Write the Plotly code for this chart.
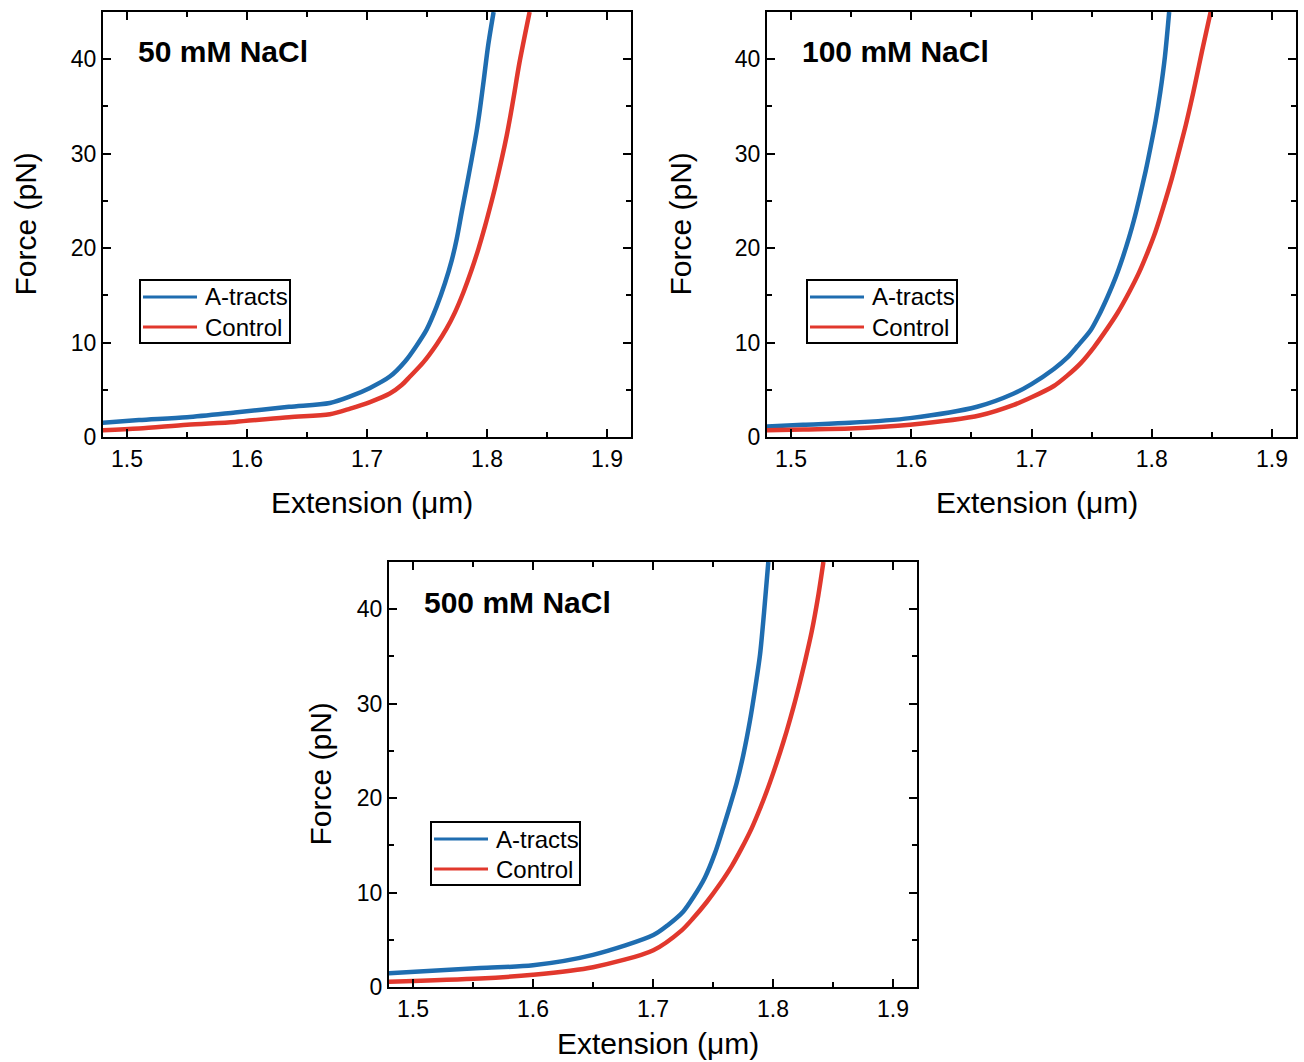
import plotly.graph_objects as go

# ---------------- data ----------------
titles = ["50 mM NaCl", "100 mM NaCl", "500 mM NaCl"]
series_names = ["A-tracts", "Control"]

# 50 mM NaCl
ext_a_50 = [1.478, 1.51, 1.55, 1.59, 1.635, 1.669, 1.686, 1.7025, 1.719, 1.7317, 1.7414, 1.7498,
            1.758, 1.765, 1.7706, 1.7748, 1.7789, 1.7831, 1.7872, 1.7914, 1.7942, 1.7975,
            1.801, 1.8055]
force_a_50 = [1.5, 1.8, 2.1, 2.6, 3.2, 3.6, 4.3, 5.2, 6.4, 8.0, 9.7, 11.4,
              13.8, 16.3, 18.7, 21.0, 23.8, 26.6, 29.4, 32.4, 34.8, 38.0,
              41.5, 45.0]
ext_c_50 = [1.478, 1.51, 1.55, 1.59, 1.635, 1.669, 1.686, 1.7025, 1.719, 1.7289, 1.7358, 1.7469,
            1.758, 1.7664, 1.7733, 1.7803, 1.7872, 1.7928, 1.7983, 1.8025, 1.8067, 1.8122,
            1.8164, 1.8195, 1.8225, 1.827, 1.8355]
force_c_50 = [0.7, 0.9, 1.3, 1.6, 2.1, 2.4, 3.0, 3.7, 4.6, 5.5, 6.4, 7.9,
              9.8, 11.5, 13.2, 15.3, 17.7, 19.9, 22.3, 24.3, 26.4, 29.4,
              31.9, 34.0, 36.2, 39.6, 45.0]

# 100 mM NaCl
ext_a_100 = [1.476, 1.51, 1.549, 1.599, 1.6548, 1.6853, 1.70, 1.7186, 1.7297, 1.7381, 1.7492,
             1.7561, 1.7631, 1.77, 1.7756, 1.7811, 1.7853, 1.7894, 1.795, 1.7992, 1.8033,
             1.8072, 1.811, 1.8145]
force_a_100 = [1.1, 1.3, 1.5, 2.0, 3.2, 4.6, 5.6, 7.2, 8.4, 9.6, 11.3,
               12.9, 14.8, 16.9, 18.9, 21.1, 23.0, 25.1, 28.2, 30.8, 33.5,
               36.6, 40.3, 45.0]
ext_c_100 = [1.476, 1.51, 1.549, 1.599, 1.6575, 1.6853, 1.70, 1.7186, 1.7297, 1.7408, 1.7519,
             1.7631, 1.7714, 1.7811, 1.7894, 1.7964, 1.8019, 1.8061, 1.8117, 1.8172, 1.8228,
             1.8283, 1.8325, 1.8363, 1.8419, 1.849]
force_c_100 = [0.7, 0.8, 0.9, 1.3, 2.3, 3.4, 4.2, 5.4, 6.5, 7.8, 9.5,
               11.5, 13.1, 15.3, 17.4, 19.5, 21.3, 22.9, 25.2, 27.6, 30.3,
               33.0, 35.3, 37.5, 40.9, 45.0]

# 500 mM NaCl
ext_a_500 = [1.478, 1.5558, 1.60, 1.65, 1.7003, 1.7128, 1.7253, 1.7336, 1.7433, 1.7517, 1.7586,
             1.7642, 1.7697, 1.7753, 1.7808, 1.785, 1.7892, 1.7925, 1.7961]
force_a_500 = [1.45, 2.0, 2.3, 3.4, 5.5, 6.6, 8.0, 9.5, 11.6, 14.2, 16.9,
               19.2, 21.6, 24.6, 28.2, 31.5, 35.2, 39.6, 45.0]
ext_c_500 = [1.478, 1.5558, 1.60, 1.65, 1.7003, 1.7239, 1.7336, 1.7448, 1.7558, 1.7656,
             1.7739, 1.7822, 1.7892, 1.7947, 1.8003, 1.8058, 1.8114, 1.817, 1.8225, 1.8267,
             1.8322, 1.8378, 1.842]
force_c_500 = [0.56, 0.9, 1.3, 2.1, 3.9, 6.0, 7.3, 9.0, 10.9, 12.8,
               14.7, 16.8, 18.9, 20.7, 22.7, 24.8, 27.1, 29.6, 32.3, 34.5,
               37.6, 41.5, 45.0]

x_range = [1.48, 1.92]
y_range = [0, 45]
x_ticks = [1.5, 1.6, 1.7, 1.8, 1.9]
y_ticks = [0, 10, 20, 30, 40]

# ---------------- figure ----------------
W, H = 1304, 1062
BLUE = "#1f6db0"
RED = "#e1382d"
COLORS = [BLUE, RED]
FONT = "Liberation Sans, Arial, sans-serif"

# plot areas in pixels: (left, right, top, bottom)
boxes = [(103, 631, 12, 437), (767, 1296, 12, 437), (389, 917, 562, 987)]
# legend boxes in pixels: (left, top, right, bottom)
legend_boxes = [(140, 280, 290, 343), (807, 280, 957, 343), (431, 822, 580, 885)]
xtitle_off = [65, 65, 56]
ytitle_off = [78, 87, 69]

data = [
    (ext_a_50, force_a_50, ext_c_50, force_c_50),
    (ext_a_100, force_a_100, ext_c_100, force_c_100),
    (ext_a_500, force_a_500, ext_c_500, force_c_500),
]


def px(xp):
    return xp / W


def py(yp):
    return 1 - yp / H


fig = go.Figure()
layout = dict(
    width=W, height=H, autosize=False,
    margin=dict(l=0, r=0, t=0, b=0, pad=0, autoexpand=False),
    paper_bgcolor="white", plot_bgcolor="white",
    font=dict(family=FONT, color="black"),
    showlegend=False,
    annotations=[], shapes=[],
)

for i, ((xa, ya, xc, yc), (l, r, t, b)) in enumerate(zip(data, boxes)):
    sfx = "" if i == 0 else str(i + 1)
    for (xs, ys), name, col in zip([(xa, ya), (xc, yc)], series_names, COLORS):
        fig.add_trace(go.Scatter(x=xs, y=ys, mode="lines", name=name,
                                 line=dict(color=col, width=4.5, shape="spline", smoothing=0.8),
                                 xaxis="x" + sfx, yaxis="y" + sfx))

    common = dict(showline=True, linecolor="black", linewidth=2, mirror="ticks",
                  ticks="inside", ticklen=8, tickwidth=2, tickcolor="black",
                  showgrid=False, zeroline=False, automargin=False,
                  tickfont=dict(family=FONT, size=23, color="black"),
                  minor=dict(ticks="inside", ticklen=5, tickwidth=2, tickcolor="black",
                             showgrid=False))
    layout["xaxis" + sfx] = dict(
        common, domain=[px(l), px(r)], range=x_range, tickvals=x_ticks,
        ticktext=[f"{v:.1f}" for v in x_ticks],
        minor=dict(common["minor"], dtick=0.05, tick0=1.45),
        anchor="y" + sfx)
    layout["yaxis" + sfx] = dict(
        common, domain=[py(b), py(t)], range=y_range, tickvals=y_ticks,
        minor=dict(common["minor"], dtick=5, tick0=0),
        anchor="x" + sfx)

    # legend (box, line samples, labels)
    ll, lt, lr, lb = legend_boxes[i]
    layout["shapes"].append(dict(type="rect", xref="paper", yref="paper",
                                 x0=px(ll), x1=px(lr), y0=py(lb), y1=py(lt),
                                 line=dict(color="black", width=2), fillcolor="white",
                                 layer="above"))
    for k, (name, col) in enumerate(zip(series_names, COLORS)):
        yy = lt + 17 + 30 * k
        layout["shapes"].append(dict(type="line", xref="paper", yref="paper",
                                     x0=px(ll + 3), x1=px(ll + 57), y0=py(yy), y1=py(yy),
                                     line=dict(color=col, width=3), layer="above"))
        layout["annotations"].append(dict(
            text=name, x=px(ll + 63), y=py(yy), xref="paper", yref="paper",
            xanchor="left", yanchor="middle", showarrow=False,
            font=dict(family=FONT, size=24, color="black")))

    # panel title
    layout["annotations"].append(dict(
        text="<b>" + titles[i] + "</b>", x=px(l + 33), y=py(t + 40),
        xref="paper", yref="paper", xanchor="left", yanchor="middle",
        showarrow=False, font=dict(family=FONT, size=30, color="black")))
    # x axis title
    layout["annotations"].append(dict(
        text="Extension (\u03bcm)", x=px((l + r) / 2 + 5), y=py(b + xtitle_off[i]),
        xref="paper", yref="paper", xanchor="center", yanchor="middle",
        showarrow=False, font=dict(family=FONT, size=30, color="black")))
    # y axis title
    layout["annotations"].append(dict(
        text="Force (pN)", x=px(l - ytitle_off[i]), y=py((t + b) / 2),
        xref="paper", yref="paper", xanchor="center", yanchor="middle",
        textangle=-90, showarrow=False,
        font=dict(family=FONT, size=30, color="black")))

fig.update_layout(**layout)
fig.write_html("out.html")
